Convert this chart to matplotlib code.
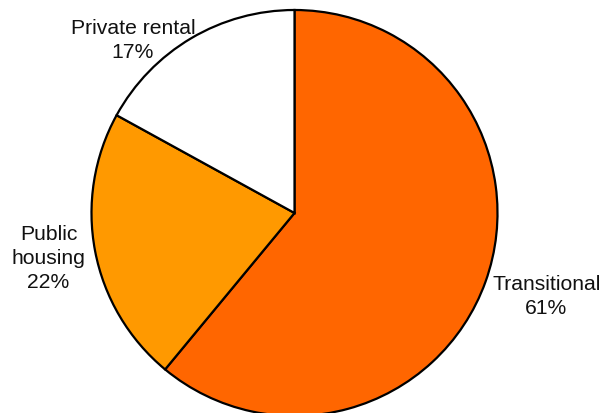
import matplotlib
matplotlib.use("Agg")
import matplotlib.pyplot as plt

categories = ["Transitional", "Public housing", "Private rental"]
shares = [61, 22, 17]
label_texts = ["Transitional\n61%", "Public\nhousing\n22%", "Private rental\n17%"]
colors = ["#FF6600", "#FF9900", "#FFFFFF"]

plt.rcParams["font.family"] = ["Liberation Sans", "DejaVu Sans"]

W, H = 604, 414
fig = plt.figure(figsize=(W / 100, H / 100), dpi=100)
ax = fig.add_axes([0, 0, 1, 1])

ax.pie(shares, colors=colors, startangle=90, counterclock=False,
       center=(294.5, 200), radius=203, frame=True,
       wedgeprops=dict(edgecolor="black", linewidth=1.6))
ax.set_xlim(0, W)
ax.set_ylim(0, H)
ax.set_aspect("equal")
ax.axis("off")

label_pos = [(546.5, 117.5), (48.5, 155.5), (133, 373.5)]
for txt, (x, y) in zip(label_texts, label_pos):
    ax.text(x, y, txt, ha="center", va="center", multialignment="center",
            fontsize=15.2, linespacing=1.33, color="#111111")

fig.savefig("out.png", dpi=100)
